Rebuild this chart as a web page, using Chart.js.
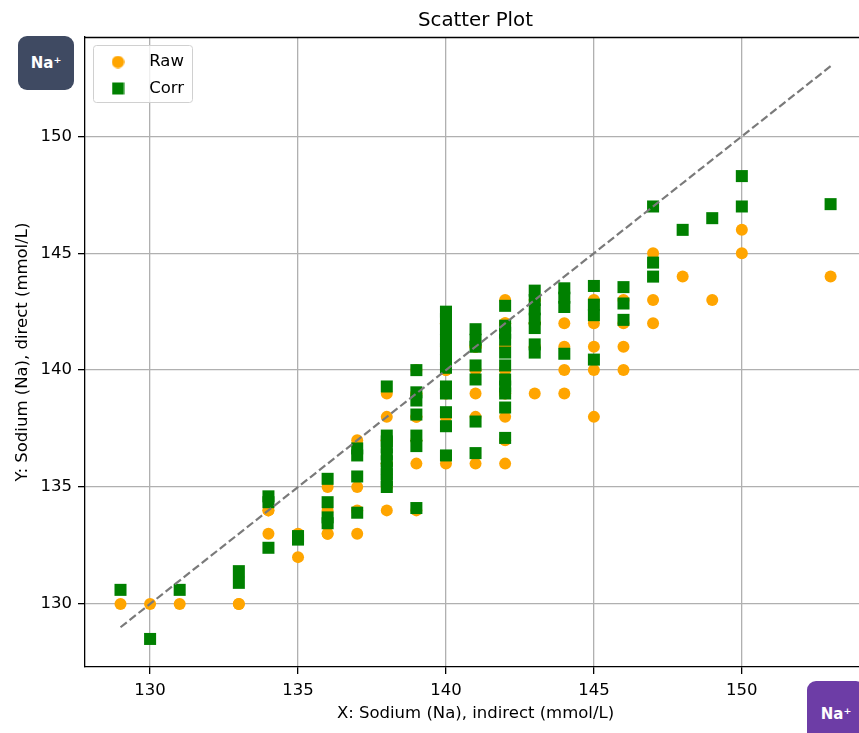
<!DOCTYPE html>
<html><head><meta charset="utf-8">
<script src="https://cdn.jsdelivr.net/npm/chart.js@4.4.0/dist/chart.umd.min.js"></script>
<style>
html,body{margin:0;padding:0;overflow:hidden;background:#fff;width:859px;height:733px;}
#wrap{position:absolute;left:0;top:0;width:859px;height:733px;overflow:hidden;}
#c{position:absolute;left:0;top:0;width:859px;height:733px;}
.badge{position:absolute;color:#fff;font-family:'DejaVu Sans',sans-serif;font-weight:bold;font-size:15px;display:flex;align-items:center;justify-content:center;border-radius:9px;}
</style></head><body>
<div id="wrap"><canvas id="c" width="859" height="733"></canvas>
<div class="badge" style="left:18px;top:36px;width:56px;height:54px;background:#3f4a62;">Na⁺</div>
<div class="badge" style="left:807px;top:681px;width:58px;height:66px;background:#6d3da6;">Na⁺</div>
</div>
<script>
// ---- data ----
const seriesLabels = ['Raw', 'Corr'];
const rawX = [129,130,131,133,133,134,134,134,135,135,
  136,136,136,136,137,137,137,137,
  138,138,138,138,138,138,138,138,138,138,
  139,139,139,139,139,139,139,139,
  140,140,140,140,140,140,140,140,140,140,140,140,
  141,141,141,141,141,141,141,
  142,142,142,142,142,142,142,142,142,142,142,142,
  143,143,143,143,143,143,143,
  144,144,144,144,145,145,145,145,145,146,146,146,146,
  147,147,147,148,149,150,150,153];
const rawY = [130,130,130,130,130,134,134,133,133,132,
  135,134,133,133,137,135,134,133,
  139,138,137,137,136,136,136,135,135,134,
  140,139,139,138,138,137,136,134,
  142,142,141,141,141,140,140,139,139,138,138,136,
  141,141,141,140,139,138,136,
  143,142,142,141,141,140,140,139,139,138,137,136,
  143,143,142,142,141,141,139,
  142,141,140,139,143,142,141,140,138,143,142,141,140,
  145,143,142,144,143,146,145,144];
const corrX = [129,130,131,133,133,134,134,134,135,135,
  136,136,136,136,137,137,137,137,
  138,138,138,138,138,138,138,138,138,138,
  139,139,139,139,139,139,139,
  140,140,140,140,140,140,140,140,140,140,140,140,
  141,141,141,141,141,141,141,
  142,142,142,142,142,142,142,142,142,142,142,
  143,143,143,143,143,143,143,
  144,144,144,144,145,145,145,145,146,146,146,
  147,147,147,148,149,150,150,153];
const corrY = [130.6,128.5,130.6,131.4,130.9,134.6,134.35,132.4,132.9,132.75,
  135.35,134.35,133.7,133.45,136.65,136.35,135.45,133.9,
  139.3,137.2,136.95,136.7,136.4,136.1,135.8,135.55,135.3,135.0,
  140.0,139.05,138.7,138.1,137.2,136.75,134.1,
  142.5,142.2,141.75,141.3,140.9,140.45,140.1,139.3,139.0,138.2,137.6,136.35,
  141.75,141.3,141.0,140.2,139.6,137.8,136.45,
  142.75,141.9,141.6,141.3,140.75,140.2,139.6,139.3,139.0,138.4,137.1,
  143.4,143.0,142.6,142.2,141.8,141.1,140.75,
  143.5,143.1,142.7,140.7,143.6,142.8,142.35,140.45,143.55,142.85,142.15,
  147.0,144.6,144.0,146.0,146.5,148.3,147.0,147.1];
const identityX = [129, 153];
const identityY = [129, 153];
const xTicks = [130, 135, 140, 145, 150];
const yTicks = [130, 135, 140, 145, 150];

const toPts = (xs, ys) => xs.map((x, i) => ({x: x, y: ys[i]}));
const FONT = "'DejaVu Sans', sans-serif";
const ORANGE = '#ffa500', GREEN = '#008000';
const HIDDEN_RIGHT = 7; // axes extend ~7px past the visible right edge

function markerCanvas(kind, color) {
  const c = document.createElement('canvas');
  c.width = 13; c.height = 13;
  const g = c.getContext('2d');
  g.fillStyle = color;
  if (kind === 'circle') { g.beginPath(); g.arc(6.5, 6.5, 6.2, 0, Math.PI * 2); g.fill(); }
  else { g.fillRect(0.5, 0.5, 12, 12); }
  return c;
}
const legendMarks = [markerCanvas('circle', ORANGE), markerCanvas('rect', GREEN)];

const framePlugin = {
  id: 'frame',
  afterUpdate(chart) {
    const lg = chart.legend;
    lg.left = 85; lg.top = 43.75; lg.right = 200; lg.bottom = 110;
    if (chart.titleBlock) chart.titleBlock.right = chart.chartArea.right + HIDDEN_RIGHT;
    const xs = chart.scales.x;
    if (!xs._wrapped) {
      const od = xs.drawTitle;
      xs.drawTitle = function () {
        const r = this.right;
        this.right = r + HIDDEN_RIGHT;
        od.apply(this, arguments);
        this.right = r;
      };
      xs._wrapped = true;
    }
    if (!lg._wrapped) {
      const orig = lg.draw;
      lg.draw = function () {
        const ctx = chart.ctx;
        ctx.save();
        ctx.beginPath();
        if (ctx.roundRect) ctx.roundRect(93.5, 45.5, 99, 57, 3); else ctx.rect(93.5, 45.5, 99, 57);
        ctx.fillStyle = 'rgba(255,255,255,0.8)';
        ctx.fill();
        ctx.strokeStyle = '#d0d0d0';
        ctx.lineWidth = 1;
        ctx.stroke();
        ctx.restore();
        orig.apply(this, arguments);
      };
      lg._wrapped = true;
    }
  },
  afterDraw(chart) {
    const a = chart.chartArea, ctx = chart.ctx;
    ctx.save();
    ctx.strokeStyle = '#000';
    ctx.lineWidth = 1.3;
    ctx.beginPath();
    ctx.moveTo(a.left, 37.5); ctx.lineTo(chart.width, 37.5);
    ctx.stroke();
    ctx.restore();
  }
};

const noPad = (s) => { s.paddingLeft = 0; s.paddingRight = 0; s.paddingTop = 0; s.paddingBottom = 0; };

new Chart(document.getElementById('c'), {
  type: 'scatter',
  data: {
    datasets: [
      {label: seriesLabels[0], data: toPts(rawX, rawY), pointStyle: 'circle', pointRadius: 6,
        backgroundColor: ORANGE, borderColor: ORANGE, borderWidth: 0, order: 2},
      {label: seriesLabels[1], data: toPts(corrX, corrY), pointStyle: 'rect', pointRadius: 8.5,
        backgroundColor: GREEN, borderColor: GREEN, borderWidth: 0, order: 1},
      {label: 'y = x', type: 'line', data: toPts(identityX, identityY), showLine: true,
        borderColor: '#7a7a7a', borderWidth: 2.2, borderDash: [8, 3.5], pointRadius: 0,
        fill: false, order: 0}
    ]
  },
  options: {
    responsive: false,
    animation: false,
    events: [],
    layout: {autoPadding: false, padding: {left: 0, right: 0, top: 0, bottom: 0}},
    plugins: {
      tooltip: {enabled: false},
      title: {display: true, text: 'Scatter Plot', fullSize: false, color: '#000',
        font: {family: FONT, size: 19.8, weight: 'normal', lineHeight: 1.2},
        padding: {top: 9, bottom: 4.24}},
      legend: {
        position: 'chartArea', align: 'start',
        labels: {
          usePointStyle: true, pointStyleWidth: 46, boxHeight: 12, padding: 10,
          color: '#000', font: {family: FONT, size: 16.5},
          generateLabels: (chart) => [0, 1].map(i => ({
            text: chart.data.datasets[i].label, pointStyle: legendMarks[i],
            fillStyle: i ? GREEN : ORANGE, strokeStyle: 'transparent', lineWidth: 0,
            hidden: false, datasetIndex: i, fontColor: '#000'
          }))
        }
      }
    },
    scales: {
      x: {
        type: 'linear', min: 127.8, max: 153.96,
        afterFit: (s) => { s.height = 66; noPad(s); },
        afterBuildTicks: (s) => { s.ticks = xTicks.map(v => ({value: v})); },
        ticks: {includeBounds: false, color: '#000', font: {family: FONT, size: 16.5}, padding: 7,
          maxRotation: 0, callback: (v) => String(v)},
        grid: {color: '#b0b0b0', lineWidth: 1.3, tickLength: 7, tickColor: '#000', tickWidth: 1.3},
        border: {display: true, color: '#000', width: 1.3},
        title: {display: true, text: 'X: Sodium (Na), indirect (mmol/L)', color: '#000',
          font: {family: FONT, size: 16.5}, padding: {top: 0, bottom: 9}}
      },
      y: {
        type: 'linear', min: 127.3, max: 154.25,
        afterFit: (s) => { s.width = 85; noPad(s); },
        afterBuildTicks: (s) => { s.ticks = yTicks.map(v => ({value: v})); },
        ticks: {includeBounds: false, color: '#000', font: {family: FONT, size: 16.5}, padding: 6,
          callback: (v) => String(v)},
        grid: {color: '#b0b0b0', lineWidth: 1.3, tickLength: 7, tickColor: '#000', tickWidth: 1.3},
        border: {display: true, color: '#000', width: 1.3},
        title: {display: true, text: 'Y: Sodium (Na), direct (mmol/L)', color: '#000',
          font: {family: FONT, size: 16.5}, padding: {top: 13, bottom: 0}}
      }
    }
  },
  plugins: [framePlugin]
});
</script>
</body></html>
